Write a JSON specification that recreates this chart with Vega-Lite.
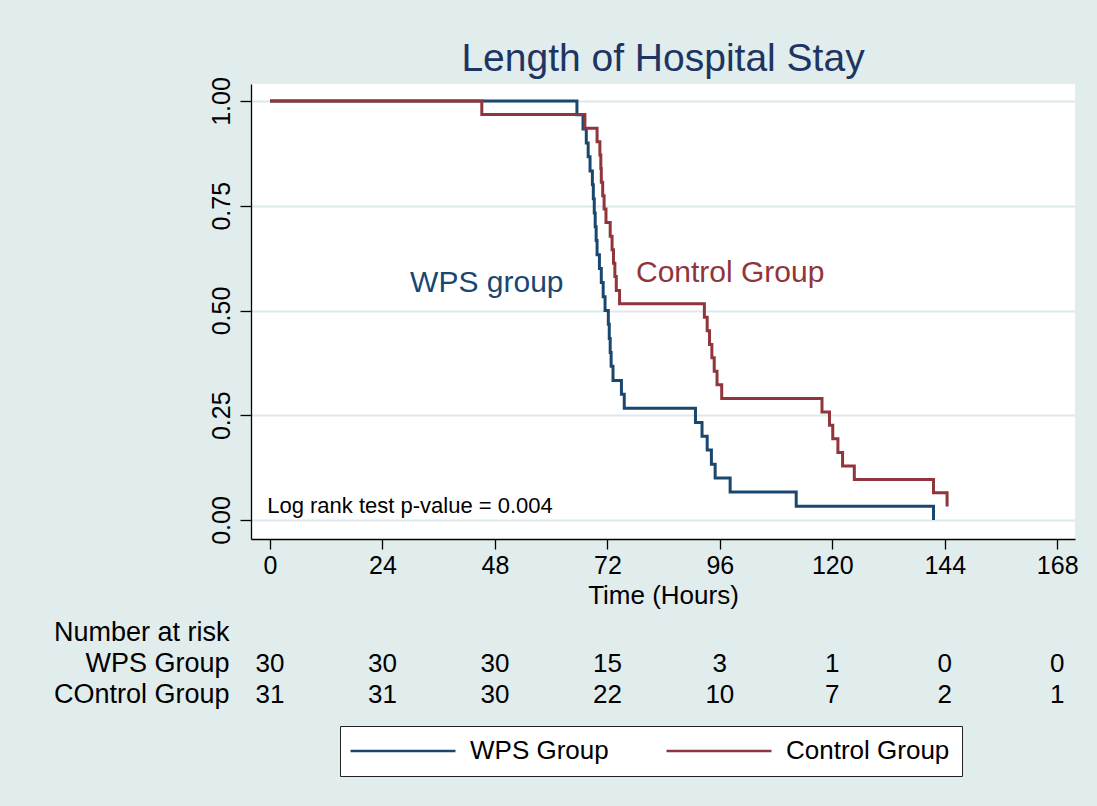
{
  "$schema": "https://vega.github.io/schema/vega-lite/v6.json",
  "background": "#e1eced",
  "padding": {"left": 53, "top": 39, "right": 24, "bottom": 40},
  "config": {
    "font": "Liberation Sans",
    "view": {"stroke": null},
    "concat": {"spacing": 9},
    "axis": {"labelFont": "Liberation Sans", "titleFont": "Liberation Sans", "labelColor": "#000", "titleColor": "#000", "domainColor": "#000", "tickColor": "#000"}
  },
  "datasets": {
    "km": [
      {"group": "WPS Group", "t": 0, "s": 1},
      {"group": "WPS Group", "t": 65.5, "s": 0.967},
      {"group": "WPS Group", "t": 66.8, "s": 0.933},
      {"group": "WPS Group", "t": 67.5, "s": 0.9},
      {"group": "WPS Group", "t": 67.9, "s": 0.867},
      {"group": "WPS Group", "t": 68.3, "s": 0.833},
      {"group": "WPS Group", "t": 68.8, "s": 0.8},
      {"group": "WPS Group", "t": 69.0, "s": 0.767},
      {"group": "WPS Group", "t": 69.2, "s": 0.733},
      {"group": "WPS Group", "t": 69.4, "s": 0.7},
      {"group": "WPS Group", "t": 69.6, "s": 0.667},
      {"group": "WPS Group", "t": 69.8, "s": 0.633},
      {"group": "WPS Group", "t": 70.3, "s": 0.6},
      {"group": "WPS Group", "t": 70.7, "s": 0.567},
      {"group": "WPS Group", "t": 71.1, "s": 0.533},
      {"group": "WPS Group", "t": 71.5, "s": 0.5},
      {"group": "WPS Group", "t": 72.2, "s": 0.467},
      {"group": "WPS Group", "t": 72.4, "s": 0.433},
      {"group": "WPS Group", "t": 72.6, "s": 0.4},
      {"group": "WPS Group", "t": 72.8, "s": 0.367},
      {"group": "WPS Group", "t": 73.2, "s": 0.333},
      {"group": "WPS Group", "t": 75.0, "s": 0.3},
      {"group": "WPS Group", "t": 75.6, "s": 0.267},
      {"group": "WPS Group", "t": 90.8, "s": 0.233},
      {"group": "WPS Group", "t": 92.2, "s": 0.2},
      {"group": "WPS Group", "t": 93.3, "s": 0.167},
      {"group": "WPS Group", "t": 94.2, "s": 0.133},
      {"group": "WPS Group", "t": 95.0, "s": 0.1},
      {"group": "WPS Group", "t": 98.2, "s": 0.067},
      {"group": "WPS Group", "t": 112.3, "s": 0.033},
      {"group": "WPS Group", "t": 141.6, "s": 0},
      {"group": "Control Group", "t": 0, "s": 1},
      {"group": "Control Group", "t": 45.2, "s": 0.968},
      {"group": "Control Group", "t": 67.2, "s": 0.935},
      {"group": "Control Group", "t": 69.8, "s": 0.903},
      {"group": "Control Group", "t": 70.4, "s": 0.871},
      {"group": "Control Group", "t": 70.6, "s": 0.839},
      {"group": "Control Group", "t": 70.7, "s": 0.806},
      {"group": "Control Group", "t": 71.0, "s": 0.774},
      {"group": "Control Group", "t": 71.3, "s": 0.742},
      {"group": "Control Group", "t": 71.7, "s": 0.71},
      {"group": "Control Group", "t": 72.6, "s": 0.677},
      {"group": "Control Group", "t": 73.0, "s": 0.645},
      {"group": "Control Group", "t": 73.3, "s": 0.613},
      {"group": "Control Group", "t": 73.6, "s": 0.581},
      {"group": "Control Group", "t": 73.9, "s": 0.548},
      {"group": "Control Group", "t": 74.6, "s": 0.516},
      {"group": "Control Group", "t": 92.7, "s": 0.484},
      {"group": "Control Group", "t": 93.3, "s": 0.452},
      {"group": "Control Group", "t": 93.8, "s": 0.419},
      {"group": "Control Group", "t": 94.3, "s": 0.387},
      {"group": "Control Group", "t": 94.8, "s": 0.355},
      {"group": "Control Group", "t": 95.4, "s": 0.323},
      {"group": "Control Group", "t": 96.4, "s": 0.29},
      {"group": "Control Group", "t": 117.8, "s": 0.258},
      {"group": "Control Group", "t": 119.4, "s": 0.226},
      {"group": "Control Group", "t": 120.1, "s": 0.194},
      {"group": "Control Group", "t": 121.2, "s": 0.161},
      {"group": "Control Group", "t": 122.2, "s": 0.129},
      {"group": "Control Group", "t": 124.7, "s": 0.097},
      {"group": "Control Group", "t": 141.6, "s": 0.065},
      {"group": "Control Group", "t": 144.5, "s": 0.032}
    ],
    "risk": [
      {"row": "WPS Group", "t": 0, "n": 30},
      {"row": "WPS Group", "t": 24, "n": 30},
      {"row": "WPS Group", "t": 48, "n": 30},
      {"row": "WPS Group", "t": 72, "n": 15},
      {"row": "WPS Group", "t": 96, "n": 3},
      {"row": "WPS Group", "t": 120, "n": 1},
      {"row": "WPS Group", "t": 144, "n": 0},
      {"row": "WPS Group", "t": 168, "n": 0},
      {"row": "COntrol Group", "t": 0, "n": 31},
      {"row": "COntrol Group", "t": 24, "n": 31},
      {"row": "COntrol Group", "t": 48, "n": 30},
      {"row": "COntrol Group", "t": 72, "n": 22},
      {"row": "COntrol Group", "t": 96, "n": 10},
      {"row": "COntrol Group", "t": 120, "n": 7},
      {"row": "COntrol Group", "t": 144, "n": 2},
      {"row": "COntrol Group", "t": 168, "n": 1}
    ]
  },
  "vconcat": [
    {
      "width": 824,
      "height": 455,
      "view": {"fill": "white", "stroke": null},
      "title": {"text": "Length of Hospital Stay", "fontSize": 39, "font": "Liberation Sans", "fontWeight": "normal", "color": "#1e3461", "anchor": "middle", "frame": "group", "offset": -2},
      "layer": [
        {
          "data": {"name": "km"},
          "mark": {"type": "line", "interpolate": "step-after", "strokeWidth": 3},
          "encoding": {
            "x": {"field": "t", "type": "quantitative",
              "scale": {"domain": [-4.06, 171.8], "nice": false, "zero": false},
              "axis": {"values": [0, 24, 48, 72, 96, 120, 144, 168], "grid": false, "labelFontSize": 25, "tickSize": 10, "labelPadding": 4, "title": "Time (Hours)", "titleFontSize": 26, "titleFontWeight": "normal", "titlePadding": 4, "domainWidth": 1.3, "tickWidth": 1.3}},
            "y": {"field": "s", "type": "quantitative",
              "scale": {"domain": [-0.0453, 1.0406], "nice": false, "zero": false},
              "axis": {"values": [0, 0.25, 0.5, 0.75, 1], "format": ".2f", "labelAngle": 270, "labelFontSize": 25, "tickSize": 11, "labelPadding": 6, "title": null, "grid": true, "gridColor": "#dde8ec", "gridWidth": 2, "domainWidth": 1.3, "tickWidth": 1.3}},
            "color": {"field": "group", "type": "nominal",
              "scale": {"domain": ["WPS Group", "Control Group"], "range": ["#1a476f", "#90353b"]},
              "legend": {"title": null, "orient": "none", "legendX": 89, "legendY": 642, "direction": "horizontal", "symbolType": "M-5,0H5", "symbolSize": 441, "symbolStrokeWidth": 2.5, "symbolOffset": 38, "labelFontSize": 26, "labelFont": "Liberation Sans", "labelColor": "#000", "labelOffset": 54, "labelLimit": 400, "columnPadding": 52, "fillColor": "white", "strokeColor": "#222", "padding": 12}}
          }
        },
        {
          "data": {"values": [{}]},
          "mark": {"type": "text", "text": "WPS group", "align": "left", "baseline": "middle", "fontSize": 30, "color": "#1a476f"},
          "encoding": {"x": {"datum": 29.9}, "y": {"datum": 0.566}}
        },
        {
          "data": {"values": [{}]},
          "mark": {"type": "text", "text": "Control Group", "align": "left", "baseline": "middle", "fontSize": 30, "color": "#90353b"},
          "encoding": {"x": {"datum": 78.1}, "y": {"datum": 0.59}}
        },
        {
          "data": {"values": [{}]},
          "mark": {"type": "text", "text": "Log rank test p-value = 0.004", "align": "left", "baseline": "middle", "fontSize": 22, "color": "#000"},
          "encoding": {"x": {"datum": -0.6}, "y": {"datum": 0.033}}
        }
      ]
    },
    {
      "width": 824,
      "height": 93,
      "data": {"name": "risk"},
      "mark": {"type": "text", "fontSize": 26, "color": "#000", "baseline": "middle"},
      "encoding": {
        "x": {"field": "t", "type": "quantitative", "scale": {"domain": [-4.06, 171.8], "nice": false, "zero": false}, "axis": null},
        "y": {"field": "row", "type": "nominal",
          "scale": {"type": "band", "domain": ["Number at risk", "WPS Group", "COntrol Group"], "paddingInner": 0, "paddingOuter": 0},
          "axis": {"title": null, "domain": false, "ticks": false, "grid": false, "labelFontSize": 27, "labelPadding": 22, "labelColor": "#000"}},
        "text": {"field": "n", "type": "quantitative"}
      }
    }
  ]
}
